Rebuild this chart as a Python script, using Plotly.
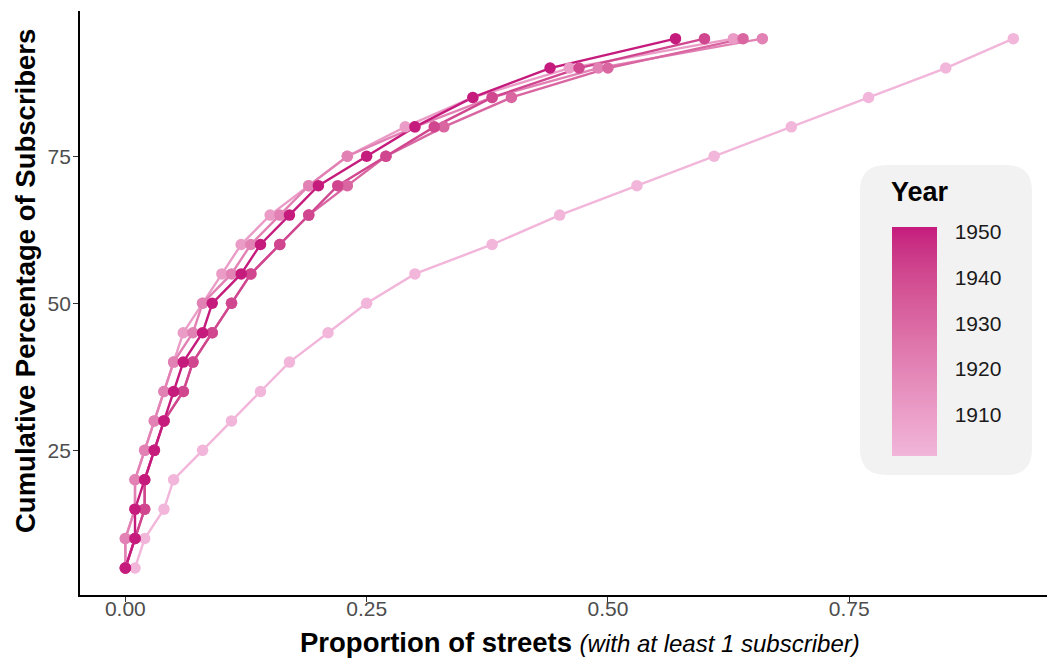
import plotly.graph_objects as go
import numpy as np

# ---------------- data ----------------
cum_pct = [5, 10, 15, 20, 25, 30, 35, 40, 45, 50, 55, 60, 65, 70, 75, 80, 85, 90, 95]
years = [1901, 1911, 1921, 1931, 1941, 1951]
prop_1901 = [0.01, 0.02, 0.04, 0.05, 0.08, 0.11, 0.14, 0.17, 0.21, 0.25, 0.30, 0.38, 0.45, 0.53, 0.61, 0.69, 0.77, 0.85, 0.92]
prop_1911 = [0.00, 0.00, 0.01, 0.01, 0.02, 0.03, 0.04, 0.05, 0.06, 0.08, 0.10, 0.12, 0.15, 0.19, 0.23, 0.29, 0.36, 0.46, 0.63]
prop_1921 = [0.00, 0.00, 0.01, 0.01, 0.02, 0.03, 0.04, 0.05, 0.07, 0.08, 0.11, 0.13, 0.16, 0.19, 0.23, 0.30, 0.38, 0.49, 0.66]
prop_1931 = [0.00, 0.01, 0.02, 0.02, 0.03, 0.04, 0.06, 0.07, 0.09, 0.11, 0.13, 0.16, 0.19, 0.23, 0.27, 0.33, 0.40, 0.50, 0.64]
prop_1941 = [0.00, 0.01, 0.02, 0.02, 0.03, 0.04, 0.06, 0.07, 0.09, 0.11, 0.13, 0.16, 0.19, 0.22, 0.27, 0.32, 0.38, 0.47, 0.60]
prop_1951 = [0.00, 0.01, 0.01, 0.02, 0.03, 0.04, 0.05, 0.06, 0.08, 0.09, 0.12, 0.14, 0.17, 0.20, 0.25, 0.30, 0.36, 0.44, 0.57]
series = [prop_1901, prop_1911, prop_1921, prop_1931, prop_1941, prop_1951]

x_ticks = [0, 0.25, 0.5, 0.75]
x_ticklabels = ["0.00", "0.25", "0.50", "0.75"]
y_ticks = [25, 50, 75]
cbar_ticks = [1910, 1920, 1930, 1940, 1950]

LOW, HIGH = "#f1b6da", "#c51b7d"

# ---------------- colour helpers (Lab interpolation like ggplot) ----------------
def hex2rgb(h):
    h = h.lstrip("#")
    return np.array([int(h[i:i + 2], 16) / 255 for i in (0, 2, 4)])

def srgb2lin(c):
    return np.where(c <= 0.04045, c / 12.92, ((c + 0.055) / 1.055) ** 2.4)

def lin2srgb(c):
    c = np.clip(c, 0, 1)
    return np.where(c <= 0.0031308, 12.92 * c, 1.055 * c ** (1 / 2.4) - 0.055)

M = np.array([[0.4124, 0.3576, 0.1805], [0.2126, 0.7152, 0.0722], [0.0193, 0.1192, 0.9505]])
WP = np.array([0.95047, 1.0, 1.08883])

def rgb2lab(rgb):
    xyz = M @ srgb2lin(rgb) / WP
    f = np.where(xyz > 0.008856, np.cbrt(xyz), 7.787 * xyz + 16 / 116)
    return np.array([116 * f[1] - 16, 500 * (f[0] - f[1]), 200 * (f[1] - f[2])])

def lab2rgb(lab):
    fy = (lab[0] + 16) / 116
    fx = fy + lab[1] / 500
    fz = fy - lab[2] / 200
    f = np.array([fx, fy, fz])
    xyz = np.where(f ** 3 > 0.008856, f ** 3, (f - 16 / 116) / 7.787) * WP
    return lin2srgb(np.linalg.inv(M) @ xyz)

def rgb2hex(rgb):
    return "#" + "".join(f"{int(round(v * 255)):02x}" for v in rgb)

lab_lo, lab_hi = rgb2lab(hex2rgb(LOW)), rgb2lab(hex2rgb(HIGH))
def col(t):
    return rgb2hex(lab2rgb(lab_lo + (lab_hi - lab_lo) * t))

ymin, ymax = min(years), max(years)
colorscale = [[t, col(t)] for t in np.linspace(0, 1, 21)]

# ---------------- figure ----------------
fig = go.Figure()
for yr, xs in zip(years, series):
    fig.add_trace(go.Scatter(x=xs, y=cum_pct, mode="lines", line=dict(color=col((yr - ymin) / (ymax - ymin)), width=2.4),
                             hoverinfo="skip", showlegend=False))
for yr, xs in zip(years, series):
    fig.add_trace(go.Scatter(x=xs, y=cum_pct, mode="markers",
                             marker=dict(color=col((yr - ymin) / (ymax - ymin)), size=11.5),
                             name=str(yr), showlegend=False))

# page body adds an 8px offset; figure sized to fit the window
OFF = 8
W, H = 1047, 654
L, R, T, B = 72, 5, 3, 67
pw, ph = W - L - R, H - T - B
def px2x(px):   # screenshot pixel -> paper
    return (px - OFF - L) / pw
def py2y(py):
    return 1 - (py - OFF - T) / ph

font_fam = "Liberation Sans, Arial, sans-serif"

# dummy trace for the colourbar
bar_top, bar_bot, bar_left, bar_w = 227, 456, 892, 45
fig.add_trace(go.Scatter(
    x=[None], y=[None], mode="markers", showlegend=False, hoverinfo="skip",
    marker=dict(color=[ymin, ymax], cmin=ymin, cmax=ymax, colorscale=colorscale, showscale=True,
                colorbar=dict(x=px2x(bar_left), xanchor="left", y=py2y((bar_top + bar_bot) / 2), yanchor="middle",
                              len=bar_bot - bar_top, lenmode="pixels", thickness=bar_w, thicknessmode="pixels",
                              xpad=0, ypad=0, outlinewidth=0, bgcolor="rgba(0,0,0,0)",
                              tickvals=cbar_ticks, ticks="outside", ticklen=14, tickcolor="rgba(0,0,0,0)",
                              tickfont=dict(family=font_fam, size=21, color="#1a1a1a")))))

# legend background (rounded rect)
bx0, bx1, by0, by1, rad = 860, 1032, 165, 475, 26
rx, ry = rad / pw, rad / ph
X0, X1, Y0, Y1 = px2x(bx0), px2x(bx1), py2y(by1), py2y(by0)
path = (f"M {X0+rx},{Y0} L {X1-rx},{Y0} Q {X1},{Y0} {X1},{Y0+ry} L {X1},{Y1-ry} Q {X1},{Y1} {X1-rx},{Y1} "
        f"L {X0+rx},{Y1} Q {X0},{Y1} {X0},{Y1-ry} L {X0},{Y0+ry} Q {X0},{Y0} {X0+rx},{Y0} Z")
fig.add_shape(type="path", path=path, xref="paper", yref="paper", fillcolor="#f2f2f2", line=dict(width=0), layer="below")

# white colourbar ticks on both sides (as ggplot draws them)
for tv in cbar_ticks:
    yy = py2y(bar_bot) + (tv - ymin) / (ymax - ymin) * (py2y(bar_top) - py2y(bar_bot))
    for a, b in ((bar_left, bar_left + 9), (bar_left + bar_w - 9, bar_left + bar_w)):
        fig.add_shape(type="line", xref="paper", yref="paper", x0=px2x(a), x1=px2x(b), y0=yy, y1=yy,
                      line=dict(color="rgba(255,255,255,0.85)", width=1.2), layer="above")

fig.add_annotation(text="<b>Year</b>", xref="paper", yref="paper", x=px2x(889), y=py2y(192), xanchor="left",
                   yanchor="middle", showarrow=False, font=dict(family=font_fam, size=27, color="black"))

# axis titles
fig.add_annotation(text="<b>Proportion of streets</b> <i><span style='font-size:24px'>(with at least 1 subscriber)</span></i>",
                   xref="paper", yref="paper", x=px2x(580), y=py2y(642), xanchor="center", yanchor="middle",
                   showarrow=False, font=dict(family=font_fam, size=27.5, color="black"))
fig.add_annotation(text="<b>Cumulative Percentage of Subscribers</b>", textangle=-90,
                   xref="paper", yref="paper", x=px2x(25), y=py2y(281), xanchor="center", yanchor="middle",
                   showarrow=False, font=dict(family=font_fam, size=27.5, color="black"))

fig.update_layout(
    width=W, height=H, margin=dict(l=L, r=R, t=T, b=B, autoexpand=False),
    paper_bgcolor="white", plot_bgcolor="white",
    font=dict(family=font_fam),
    xaxis=dict(range=[-0.047, 0.958], tickvals=x_ticks, ticktext=x_ticklabels, showgrid=False, zeroline=False,
               showline=True, linecolor="black", linewidth=1.8, ticks="outside", ticklen=5, tickcolor="#333333",
               tickfont=dict(size=21, color="#4d4d4d"), automargin=False, ticklabelstandoff=-11),
    yaxis=dict(range=[0.4, 99.7], tickvals=y_ticks, showgrid=False, zeroline=False,
               showline=True, linecolor="black", linewidth=1.8, ticks="outside", ticklen=5, tickcolor="#333333",
               tickfont=dict(size=21, color="#4d4d4d"), automargin=False, ticklabelstandoff=-2),
)

fig.write_html("out.html")
